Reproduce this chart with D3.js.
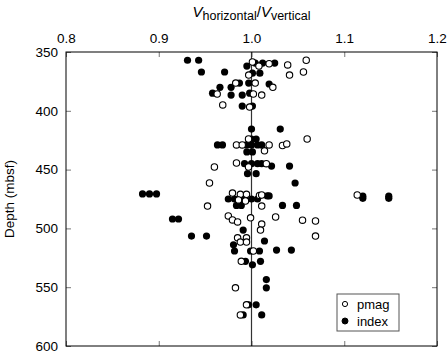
<!DOCTYPE html>
<html>
<head>
<meta charset="utf-8">
<script src="https://cdn.jsdelivr.net/npm/d3@7/dist/d3.min.js"></script>
<style>
  body { margin: 0; background: #fff; }
  svg { font-family: "Liberation Sans", Arial, Helvetica, sans-serif; }
</style>
</head>
<body>
<div id="chart"></div>
<script>
// axis ticks
const xTicks = [0.8, 0.9, 1.0, 1.1, 1.2];
const yTicks = [350, 400, 450, 500, 550, 600];

// index velocities: [ratio, depth]
const indexPts = [
  [0.931, 357], [0.943, 357], [0.946, 367], [0.971, 367],
  [0.995, 362], [1.004, 359.4], [1.012, 359.4], [1.025, 359.4], [1.001, 368], [1.009, 368],
  [0.966, 380], [0.978, 380], [0.987, 376.4], [0.997, 376.4], [1.019, 377.2],
  [0.958, 385], [0.978, 386.6], [0.990, 386.6], [0.998, 385],
  [0.990, 396], [1.001, 396],
  [1.0, 415.5], [1.031, 415.5],
  [1.0, 424], [1.005, 424],
  [0.9633, 429], [0.9687, 429], [0.9946, 429], [1.0, 429], [1.0065, 429], [1.011, 429],
  [0.995, 435], [1.001, 435],
  [0.9925, 445], [1.0, 445], [1.0065, 445], [1.011, 445], [1.0216, 447], [1.041, 447],
  [0.9957, 453.5], [1.005, 453.5],
  [1.047, 461.4],
  [0.8825, 470.7], [0.890, 470.7], [0.8976, 470.7],
  [1.12, 472.6], [1.12, 474.4], [1.148, 472.6], [1.148, 474.4],
  [0.975, 475], [0.9817, 475], [0.9925, 475], [1.0, 475], [1.0065, 475], [1.017, 472.4], [1.019, 472.4],
  [0.9838, 480.5], [0.989, 480.5], [1.0334, 480.5], [1.0485, 480.5],
  [0.9148, 492], [0.9213, 492],
  [0.9353, 506.5], [0.9515, 506.5],
  [0.991, 501.4],
  [1.014, 510.7],
  [0.9806, 514],
  [0.9817, 519.2], [0.999, 519.2], [1.0086, 519.2], [1.027, 518.4], [1.043, 518.4],
  [0.9935, 528], [1.0097, 528], [1.001, 531],
  [1.016, 543.5], [1.016, 550.5],
  [0.9968, 565], [1.005, 565],
  [0.991, 573.6], [1.011, 573.6]
];

// pmag velocities: [ratio, depth]
const pmagPts = [
  [1.001, 358.5], [1.008, 362], [1.019, 360], [1.039, 361], [1.059, 357],
  [1.041, 369.6], [1.056, 367], [0.997, 369.6],
  [1.004, 376.4], [0.983, 376.4], [1.023, 380],
  [0.963, 385.7], [1.002, 385.7], [1.011, 386.6],
  [0.969, 395], [0.998, 396.8],
  [0.9968, 424], [1.060, 424],
  [0.9838, 429], [0.990, 429], [1.019, 429], [1.0334, 429.5], [1.038, 428.2],
  [1.014, 434],
  [0.9838, 444.4], [1.016, 445],
  [0.960, 447.8], [0.9968, 447.8],
  [0.9547, 461.4],
  [0.9795, 470], [0.988, 471], [0.9946, 471], [1.0086, 472], [1.011, 471.6],
  [0.986, 475.8], [0.9935, 476.7],
  [1.114, 471.6],
  [0.9526, 481], [1.011, 481],
  [0.975, 489.4], [0.999, 491], [1.026, 490.3],
  [0.9795, 492.8], [0.985, 494.5], [1.055, 493], [1.069, 493.7],
  [1.011, 496.3], [1.0097, 501.4], [1.069, 506.5],
  [0.985, 508], [0.9946, 508], [0.988, 511.6], [0.9946, 511.6],
  [1.002, 519.2], [0.989, 528],
  [0.9827, 550.5], [0.9946, 565], [0.988, 573.6]
];

const legendItems = [["pmag", false], ["index", true]];

const width = 447, height = 354;
const margin = { top: 52, right: 10, bottom: 8, left: 66 };

const svg = d3.select("#chart").append("svg")
  .attr("width", width)
  .attr("height", height);

const x = d3.scaleLinear().domain([0.8, 1.2]).range([margin.left, width - margin.right]);
const y = d3.scaleLinear().domain([350, 600]).range([margin.top, height - margin.bottom]);

// axes with inward ticks
const axTop = svg.append("g").attr("transform", `translate(0,${margin.top})`)
  .call(d3.axisTop(x).tickValues(xTicks).tickFormat(d3.format(".1f")).tickSize(-5).tickPadding(9));
const axBottom = svg.append("g").attr("transform", `translate(0,${height - margin.bottom})`)
  .call(d3.axisBottom(x).tickValues(xTicks).tickFormat("").tickSize(-5));
const axLeft = svg.append("g").attr("transform", `translate(${margin.left},0)`)
  .call(d3.axisLeft(y).tickValues(yTicks).tickSize(-5).tickPadding(8));
const axRight = svg.append("g").attr("transform", `translate(${width - margin.right},0)`)
  .call(d3.axisRight(y).tickValues(yTicks).tickFormat("").tickSize(-5));

[axTop, axBottom, axLeft, axRight].forEach(g => {
  g.select(".domain").remove();
  g.selectAll(".tick line").attr("stroke", "#777");
  g.selectAll("text").attr("fill", "#000").style("font-size", "13.5px");
});

// reference line at 1.0
svg.append("line")
  .attr("x1", x(1)).attr("x2", x(1))
  .attr("y1", y(350)).attr("y2", y(600))
  .attr("stroke", "#333").attr("stroke-width", 1.2);

// frame
svg.append("rect")
  .attr("x", margin.left).attr("y", margin.top)
  .attr("width", width - margin.left - margin.right)
  .attr("height", height - margin.top - margin.bottom)
  .attr("fill", "none").attr("stroke", "#000");

// points
svg.append("g").selectAll("circle")
  .data(indexPts)
  .enter().append("circle")
  .attr("cx", d => x(d[0]))
  .attr("cy", d => y(d[1]))
  .attr("r", 3.6)
  .attr("fill", "#000");

svg.append("g").selectAll("circle")
  .data(pmagPts)
  .enter().append("circle")
  .attr("cx", d => x(d[0]))
  .attr("cy", d => y(d[1]))
  .attr("r", 3.2)
  .attr("fill", "#fff")
  .attr("stroke", "#000")
  .attr("stroke-width", 1.1);

// title
const title = svg.append("text")
  .attr("x", x(1))
  .attr("y", 17)
  .attr("text-anchor", "middle")
  .style("font-size", "15px");
title.append("tspan").style("font-style", "italic").text("V");
title.append("tspan").attr("dy", 3).style("font-size", "12.5px").text("horizontal");
title.append("tspan").attr("dy", -3).text("/");
title.append("tspan").style("font-style", "italic").text("V");
title.append("tspan").attr("dy", 3).style("font-size", "12.5px").text("vertical");

// y label
svg.append("text")
  .attr("transform", `translate(14,${(y(350) + y(600)) / 2}) rotate(-90)`)
  .attr("text-anchor", "middle")
  .style("font-size", "13.5px")
  .text("Depth (mbsf)");

// legend
const lg = svg.append("g").attr("transform", "translate(337,294)");
lg.append("rect").attr("width", 62).attr("height", 37)
  .attr("fill", "#fff").attr("stroke", "#555");
lg.selectAll("g.item")
  .data(legendItems)
  .enter().append("g")
  .attr("transform", (d, i) => `translate(0,${10 + i * 17})`)
  .each(function(d) {
    const g = d3.select(this);
    g.append("circle").attr("cx", 8).attr("cy", 0).attr("r", d[1] ? 3 : 2.6)
      .attr("fill", d[1] ? "#000" : "#fff").attr("stroke", "#000");
    g.append("text").attr("x", 20).attr("y", 4.5).style("font-size", "13px").text(d[0]);
  });
</script>
</body>
</html>
